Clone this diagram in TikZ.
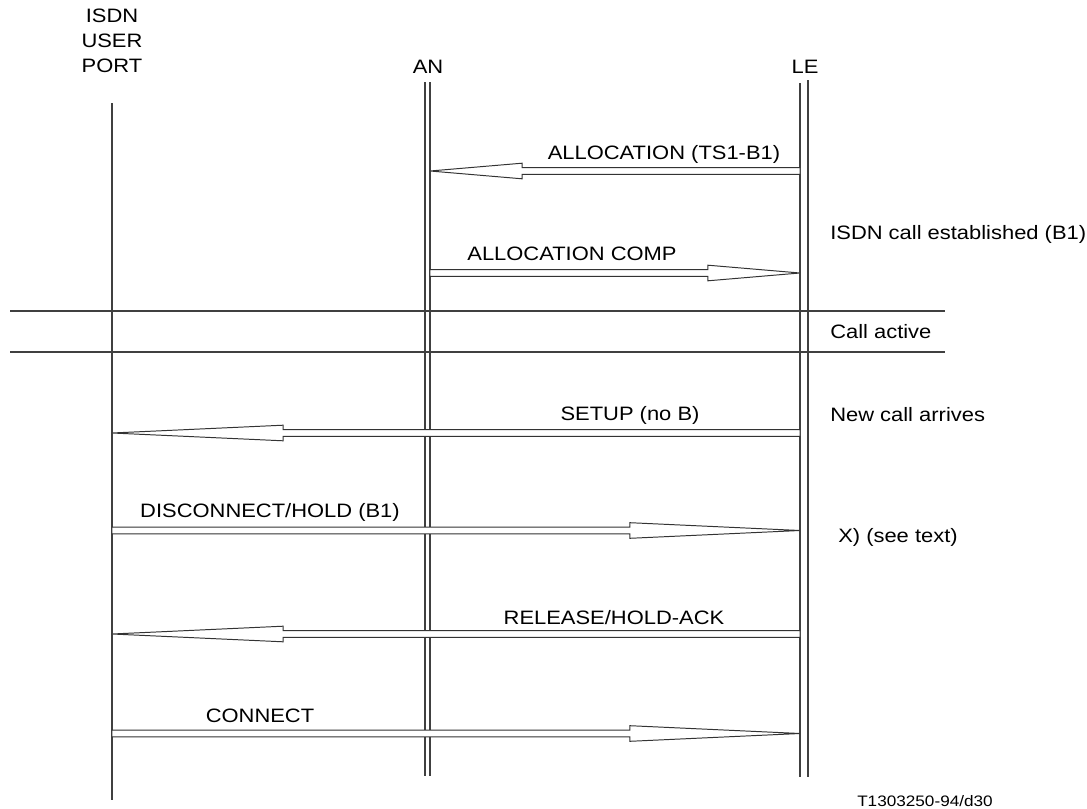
\documentclass[tikz,border=0pt]{standalone}
\usepackage{fontspec}
\setmainfont{Liberation Sans}[FakeStretch=1.13]
\usetikzlibrary{calc}

\tikzset{
  life/.style={draw=black!75, line width=0.8pt},
  msg/.style={draw=black!80, line width=0.7pt, fill=white, line join=miter},
  lbl/.style={anchor=base, inner sep=0pt, font=\fontsize{13.8}{17.7}\selectfont},
  note/.style={lbl, anchor=base west},
}
% hollow block arrow: from, to, head length
\newcommand\blockmsg[3]{%
  \coordinate (hb) at ($(#2)!#3!(#1)$);
  \draw[msg] ($(#1)+(0,3.4)$) -- ($(hb)+(0,3.4)$) -- ($(hb)+(0,7.8)$) -- (#2)
    -- ($(hb)+(0,-7.8)$) -- ($(hb)+(0,-3.4)$) -- ($(#1)+(0,-3.4)$) -- cycle;
}

\begin{document}
\begin{tikzpicture}[x=0.025cm, y=-0.025cm]
  \useasboundingbox (0,0) rectangle (1087,809);
  % headers
  \node[lbl, anchor=south, align=center] (port) at (112,73) {ISDN\\USER\\PORT};
  \node[lbl] (an) at (428,73) {AN};
  \node[lbl] (le) at (805,73) {LE};
  % lifelines
  \draw[life] (112,103) -- (112,800);
  \draw[life] (425,82) -- (425,776);
  \draw[life] (430,82) -- (430,776);
  \draw[life] (800,83) -- (800,777);
  \draw[life] (808,80) -- (808,777);
  % phase separators
  \draw[life] (10,311) -- (945,311);
  \draw[life] (10,352) -- (945,352);
  % message ends
  \coordinate (an-alloc) at (430,171);
  \coordinate (le-alloc) at (800,171);
  \coordinate (an-comp) at (430,273);
  \coordinate (le-comp) at (800,273);
  \coordinate (port-setup) at (112,433);
  \coordinate (le-setup) at (800,433);
  \coordinate (port-disc) at (112,530.5);
  \coordinate (le-disc) at (800,530.5);
  \coordinate (port-rel) at (112,634);
  \coordinate (le-rel) at (800,634);
  \coordinate (port-conn) at (112,733.5);
  \coordinate (le-conn) at (800,733.5);
  % messages
  \blockmsg{le-alloc}{an-alloc}{2.3cm}
  \blockmsg{an-comp}{le-comp}{2.3cm}
  \blockmsg{le-setup}{port-setup}{4.275cm}
  \blockmsg{port-disc}{le-disc}{4.25cm}
  \blockmsg{le-rel}{port-rel}{4.275cm}
  \blockmsg{port-conn}{le-conn}{4.25cm}
  % message labels
  \node[lbl] (alloc) at (664,159) {ALLOCATION (TS1-B1)};
  \node[lbl] (comp) at (572,260) {ALLOCATION COMP};
  \node[lbl] (setup) at (630,420) {SETUP (no B)};
  \node[lbl] (disc) at (270,517) {DISCONNECT/HOLD (B1)};
  \node[lbl] (rel) at (614,624) {RELEASE/HOLD-ACK};
  \node[lbl] (conn) at (260,722) {CONNECT};
  % notes
  \node[note] (est) at (830,239) {ISDN call established (B1)};
  \node[note] (active) at (830,338) {Call active};
  \node[note] (arr) at (830,421) {New call arrives};
  \node[note] (xsee) at (838,542) {X) (see text)};
  \node[lbl, font=\fontsize{10.8}{12}\selectfont] (tag) at (925,806) {T1303250-94/d30};
\end{tikzpicture}
\end{document}
